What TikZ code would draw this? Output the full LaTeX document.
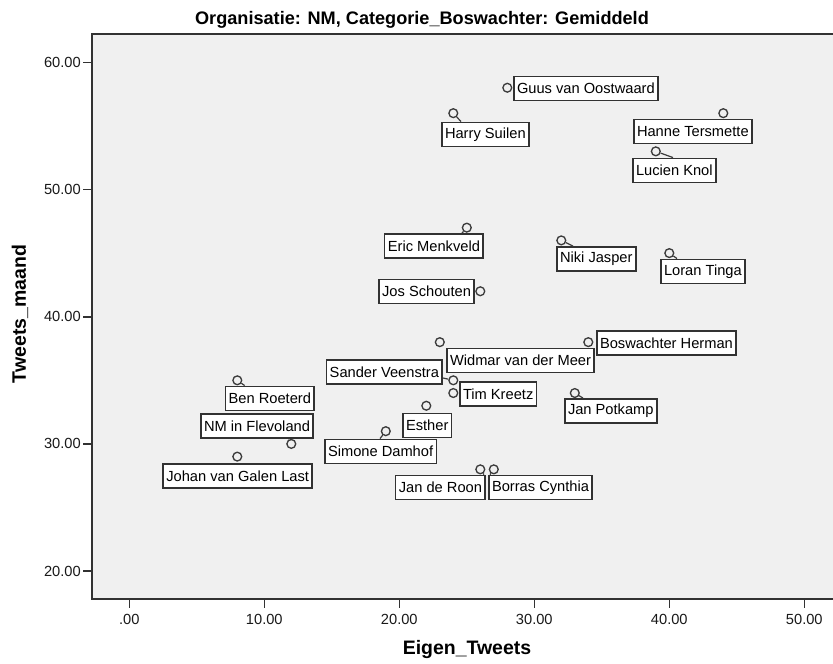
\documentclass[tikz,border=0pt]{standalone}
\usepackage{fontspec}
\setmainfont{Liberation Sans}
\usetikzlibrary{calc}

\definecolor{plotbg}{RGB}{240,240,240}
\definecolor{frameline}{RGB}{50,50,50}
\definecolor{boxline}{RGB}{50,50,50}
\definecolor{ptline}{RGB}{60,60,60}
\definecolor{ink}{RGB}{25,25,25}

\begin{document}
\begin{tikzpicture}[x=0.75pt,y=-0.75pt,
  frame/.style={draw=frameline, line width=1.2pt},
  ticklbl/.style={font=\fontsize{11}{13}\selectfont, text=ink, inner sep=0pt},
  lbl/.style={draw=boxline, fill=white, line width=1.2pt, inner xsep=2.4pt, inner ysep=0pt,
              minimum height=18.2pt, font=\fontsize{11}{13}\selectfont, text=black},
  marker/.style={circle, draw=ptline, fill=plotbg, line width=1pt, minimum size=6.6pt, inner sep=0pt},
  leader/.style={draw=ptline, line width=0.9pt},
  charttitle/.style={font=\fontsize{13.6}{16}\selectfont\bfseries, text=black, inner sep=0pt},
  axtitle/.style={font=\fontsize{14.6}{17}\selectfont\bfseries, text=black, inner sep=0pt}]

\useasboundingbox[fill=white] (0,0) rectangle (833,664);

% plot area
\fill[plotbg] (92,34) rectangle (833,599);
\draw[frame] (833,34) -- (92,34) -- (92,599) -- (833,599);

% y axis ticks
\foreach \v/\y [count=\i] in {60.00/62.3, 50.00/189.5, 40.00/316.7, 30.00/443.9, 20.00/571.1}{
  \draw[frame] (83,\y) -- (92,\y);
  \node[ticklbl, anchor=east] (ytick\i) at (81,\y) {\v};
}
% x axis ticks
\foreach \v/\x [count=\i] in {.00/129.3, 10.00/264.3, 20.00/399.3, 30.00/534.3, 40.00/669.3, 50.00/804.3}{
  \draw[frame] (\x,599) -- (\x,608);
  \node[ticklbl] (xtick\i) at (\x,619) {\v};
}

% titles
\node[charttitle] (title) at (422,20) {Organisatie: NM, Categorie\_Boswachter: Gemiddeld};
\node[axtitle] (xtitle) at (467,650) {Eigen\_Tweets};
\node[axtitle, rotate=90] (ytitle) at (20,314) {Tweets\_maand};

% data points (Eigen_Tweets, Tweets_maand)
\begin{scope}[shift={(129.3,825.5)}, x=10.125pt, y=9.54pt]
  \coordinate (d-guus)    at (28,58);
  \coordinate (d-harry)   at (24,56);
  \coordinate (d-hanne)   at (44,56);
  \coordinate (d-lucien)  at (39,53);
  \coordinate (d-eric)    at (25,47);
  \coordinate (d-niki)    at (32,46);
  \coordinate (d-loran)   at (40,45);
  \coordinate (d-jos)     at (26,42);
  \coordinate (d-herman)  at (34,38);
  \coordinate (d-widmar)  at (23,38);
  \coordinate (d-sander)  at (24,35);
  \coordinate (d-tim)     at (24,34);
  \coordinate (d-potkamp) at (33,34);
  \coordinate (d-ben)     at (8,35);
  \coordinate (d-esther)  at (22,33);
  \coordinate (d-nm)      at (12,30);
  \coordinate (d-simone)  at (19,31);
  \coordinate (d-johan)   at (8,29);
  \coordinate (d-roon)    at (26,28);
  \coordinate (d-borras)  at (27,28);
\end{scope}

\foreach \n in {guus,harry,hanne,lucien,eric,niki,loran,jos,herman,widmar,
                sander,tim,potkamp,ben,esther,nm,simone,johan,roon,borras}{
  \node[marker] (m-\n) at (d-\n) {};
}

% point labels
\node[lbl, anchor=west] (l-guus)    at (513,88.5)  {Guus van Oostwaard};
\node[lbl, anchor=west] (l-harry)   at (441,134.5) {Harry Suilen};
\node[lbl, anchor=west] (l-hanne)   at (633,131.5) {Hanne Tersmette};
\node[lbl, anchor=west] (l-lucien)  at (632,170.5) {Lucien Knol};
\node[lbl, anchor=east] (l-eric)    at (484,246)   {Eric Menkveld};
\node[lbl, anchor=west] (l-niki)    at (556,259)   {Niki Jasper};
\node[lbl, anchor=west] (l-loran)   at (660,271.5) {Loran Tinga};
\node[lbl, anchor=east] (l-jos)     at (475,291.5) {Jos Schouten};
\node[lbl, anchor=west] (l-herman)  at (596,343)   {Boswachter Herman};
\node[lbl, anchor=west] (l-widmar)  at (446,360.5) {Widmar van der Meer};
\node[lbl, anchor=east] (l-sander)  at (443,372)   {Sander Veenstra};
\node[lbl, anchor=west] (l-tim)     at (459,394)   {Tim Kreetz};
\node[lbl, anchor=west] (l-potkamp) at (564,411)   {Jan Potkamp};
\node[lbl, anchor=east] (l-ben)     at (315,398.5) {Ben Roeterd};
\node[lbl, anchor=west] (l-esther)  at (402,425.5) {Esther};
\node[lbl, anchor=east] (l-nm)      at (314,426)   {NM in Flevoland};
\node[lbl, anchor=west] (l-simone)  at (324,451.5) {Simone Damhof};
\node[lbl, anchor=east] (l-johan)   at (313,476)   {Johan van Galen Last};
\node[lbl, anchor=east] (l-roon)    at (486,487.5) {Jan de Roon};
\node[lbl, anchor=west] (l-borras)  at (488,487.5) {Borras Cynthia};

% leader lines from points to their labels
\draw[leader] (m-harry)   -- ($(l-harry.north west)+(20,0)$);
\draw[leader] (m-lucien)  -- ($(l-lucien.north west)+(41,0)$);
\draw[leader] (m-eric)    -- ($(l-eric.north east)+(-22,0)$);
\draw[leader] (m-niki)    -- ($(l-niki.north west)+(17,0)$);
\draw[leader] (m-loran)   -- ($(l-loran.north west)+(17,0)$);
\draw[leader] (m-ben)     -- ($(l-ben.north west)+(20,0)$);
\draw[leader] (m-nm)      -- ($(l-nm.south east)+(-25,0)$);
\draw[leader] (m-simone)  -- ($(l-simone.north west)+(56,0)$);
\draw[leader] (m-sander)  -- ($(l-sander.east)+(0,6)$);
\draw[leader] (m-potkamp) -- ($(l-potkamp.north west)+(19,0)$);
\draw[leader] (m-roon)    -- ($(l-roon.north east)+(-2,0)$);
\draw[leader] (m-borras)  -- ($(l-borras.north west)+(2,0)$);

\end{tikzpicture}
\end{document}
